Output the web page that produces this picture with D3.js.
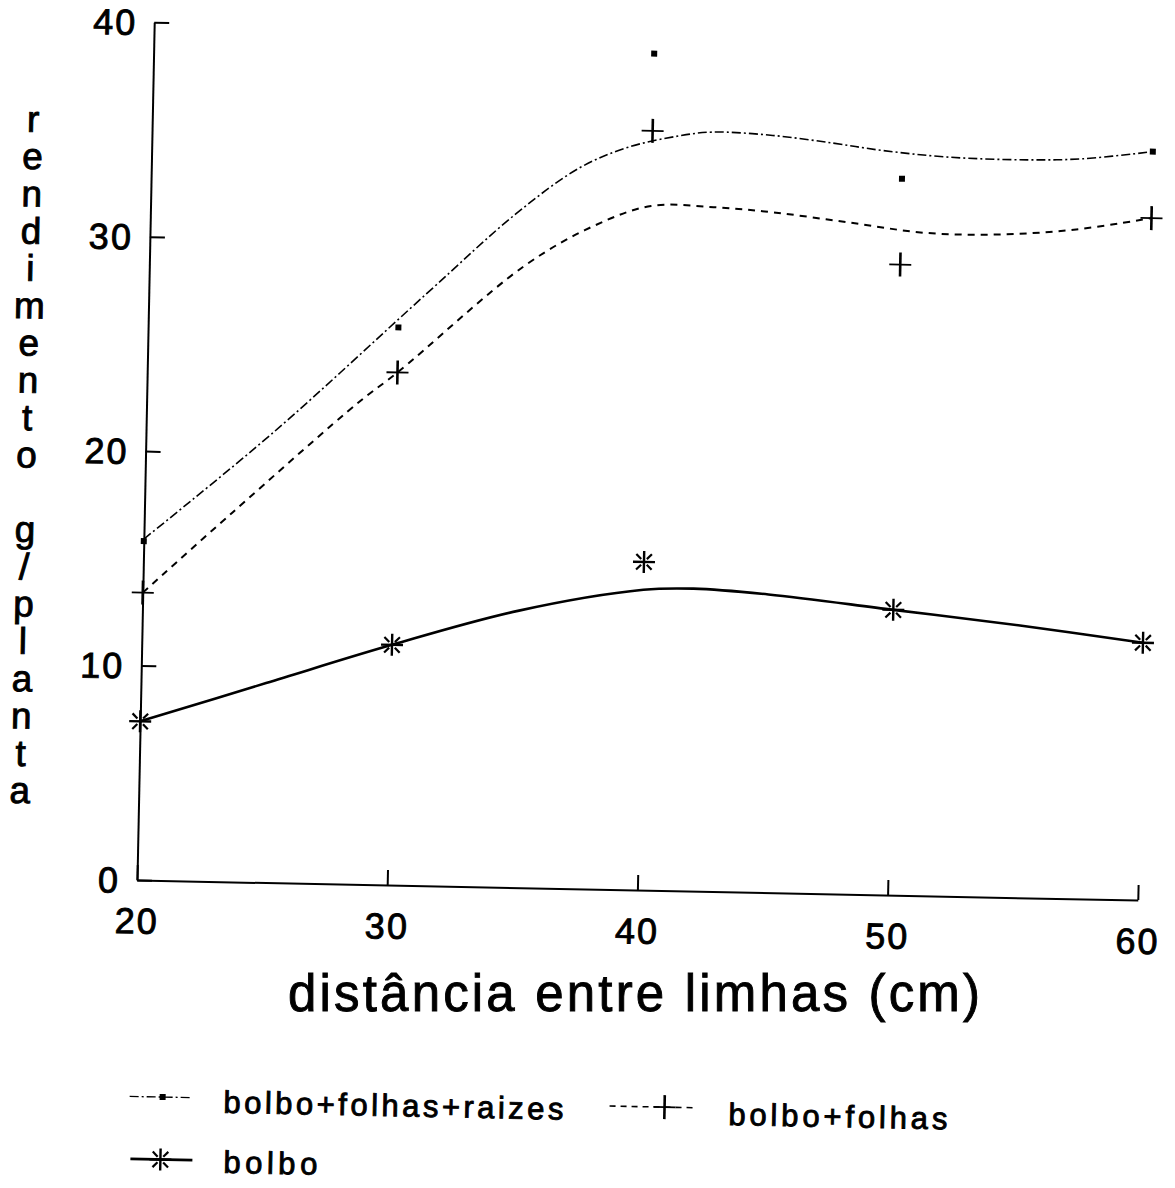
<!DOCTYPE html>
<html>
<head>
<meta charset="utf-8">
<script src="https://cdn.jsdelivr.net/npm/d3@7"></script>
<style>
  html, body { margin: 0; padding: 0; background: #fff; }
  svg { display: block; }
</style>
</head>
<body>
<svg id="chart" width="1175" height="1188"></svg>
<script>
// measured points (distance between rows, cm -> yield g/plant)
var distances = [20, 30, 40, 50, 60];
var bolbo = [7.4, 11.2, 15.3, 13.3, 12.0];
var bolboFolhas = [13.4, 23.9, 35.4, 29.4, 31.8];
var bolboFolhasRaizes = [15.8, 26.0, 39.0, 33.4, 34.9];

// fitted curves
var bolboFitX = [20, 25, 30, 35, 40, 42, 45, 50, 55, 60];
var bolboFitY = [7.4, 9.3, 11.2, 12.9, 14.0, 14.1, 13.9, 13.3, 12.7, 12.0];
var folhasFitX = [20, 23.5, 28.5, 30, 35, 37.7, 40, 42.5, 45, 48, 51, 54, 57, 60];
var folhasFitY = [13.4, 17.2, 22.5, 23.9, 29.0, 30.9, 31.9, 31.9, 31.7, 31.3, 30.9, 30.9, 31.2, 31.8];
var raizesFitX = [20, 25.1, 31.1, 34.6, 37.1, 39, 41.1, 42.4, 44.8, 47.2, 49.2, 51.9, 55, 57.2, 60];
var raizesFitY = [15.9, 21.0, 27.6, 31.4, 33.6, 34.6, 35.2, 35.4, 35.3, 35.0, 34.7, 34.45, 34.4, 34.5, 34.9];

var xTicks = [20, 30, 40, 50, 60];
var yTicks = [0, 10, 20, 30, 40];
var yLabel = "rendimento g/planta";
var xLabel = "distância entre limhas (cm)";
var legendLabels = ["bolbo+folhas+raizes", "bolbo+folhas", "bolbo"];

var font = "'Liberation Sans', Arial, Helvetica, sans-serif";
var svg = d3.select("#chart");
svg.append("rect").attr("width", 1175).attr("height", 1188).attr("fill", "#fff");

// the scanned page sits slightly rotated
var g = svg.append("g").attr("transform", "translate(137,880) rotate(1.15)");

var x = d3.scaleLinear().domain([20, 60]).range([0, 1001]);
var y = d3.scaleLinear().domain([0, 40]).range([0, -858]);

function inkText(sel) {
  // scanned print looks heavier than a plain regular face
  sel.attr("fill", "#000").attr("stroke", "#000").attr("stroke-width", 0.9);
}

var yAxis = g.append("g")
  .call(d3.axisLeft(y).tickValues(yTicks).tickSize(-15).tickSizeOuter(0).tickPadding(17));
var xAxis = g.append("g")
  .call(d3.axisBottom(x).tickValues(xTicks).tickSize(-15).tickSizeOuter(0).tickPadding(28));
[yAxis, xAxis].forEach(function(ax) {
  ax.attr("font-family", font).attr("font-size", 36);
  ax.selectAll("path, line").attr("stroke", "#000").attr("stroke-width", 2);
  ax.selectAll("text").attr("letter-spacing", 2).call(inkText);
});
yAxis.selectAll("text").attr("dy", "0.35em");

function zipPts(xs, ys) {
  return xs.map(function(v, i) { return [v, ys[i]]; });
}
var line = d3.line()
  .x(function(d) { return x(d[0]); })
  .y(function(d) { return y(d[1]); })
  .curve(d3.curveCatmullRom.alpha(0.5));

g.append("path").datum(zipPts(raizesFitX, raizesFitY))
  .attr("d", line).attr("fill", "none").attr("stroke", "#000")
  .attr("stroke-width", 1.6).attr("stroke-dasharray", "9,3,2,3");
g.append("path").datum(zipPts(folhasFitX, folhasFitY))
  .attr("d", line).attr("fill", "none").attr("stroke", "#000")
  .attr("stroke-width", 2).attr("stroke-dasharray", "7,6");
g.append("path").datum(zipPts(bolboFitX, bolboFitY))
  .attr("d", line).attr("fill", "none").attr("stroke", "#000")
  .attr("stroke-width", 2.6);

// markers
function drawDot(sel, cx, cy) {
  sel.append("rect").attr("x", cx - 3).attr("y", cy - 3)
    .attr("width", 6).attr("height", 6).attr("fill", "#000");
}
function drawPlus(sel, cx, cy) {
  sel.append("line").attr("x1", cx).attr("x2", cx).attr("y1", cy - 12).attr("y2", cy + 12)
    .attr("stroke", "#000").attr("stroke-width", 2.6);
  sel.append("line").attr("x1", cx - 11).attr("x2", cx + 11).attr("y1", cy).attr("y2", cy)
    .attr("stroke", "#000").attr("stroke-width", 1.8);
}
function drawStar(sel, cx, cy) {
  sel.append("line").attr("x1", cx).attr("x2", cx).attr("y1", cy - 11).attr("y2", cy + 11)
    .attr("stroke", "#000").attr("stroke-width", 2.4);
  sel.append("line").attr("x1", cx - 11).attr("x2", cx + 11).attr("y1", cy).attr("y2", cy)
    .attr("stroke", "#000").attr("stroke-width", 2.4);
  [45, 135, 225, 315].forEach(function(a) {
    var r = a * Math.PI / 180;
    sel.append("line")
      .attr("x1", cx + Math.cos(r) * 4).attr("y1", cy + Math.sin(r) * 4)
      .attr("x2", cx + Math.cos(r) * 11).attr("y2", cy + Math.sin(r) * 11)
      .attr("stroke", "#000").attr("stroke-width", 2.2);
  });
}

distances.forEach(function(d, i) {
  drawDot(g, x(d), y(bolboFolhasRaizes[i]));
  drawPlus(g, x(d), y(bolboFolhas[i]));
  drawStar(g, x(d), y(bolbo[i]));
});

// vertical stacked y label
g.append("g").selectAll("text")
  .data(yLabel.split(""))
  .enter().append("text")
  .attr("x", -119)
  .attr("y", function(d, i) { return -746 + i * 37.3; })
  .attr("text-anchor", "middle")
  .attr("font-family", font).attr("font-size", 37)
  .call(inkText)
  .text(function(d) { return d; });

// x title, printed level on the page
svg.append("text")
  .attr("x", 288).attr("y", 1011)
  .attr("font-family", font).attr("font-size", 51)
  .attr("textLength", 692).attr("lengthAdjust", "spacing")
  .call(inkText)
  .text(xLabel);

// legend
var leg = g.append("g");
leg.append("line").attr("x1", -3).attr("x2", 60).attr("y1", 216.5).attr("y2", 216.5)
  .attr("stroke", "#000").attr("stroke-width", 1.4).attr("stroke-dasharray", "9,3,2,3");
drawDot(leg, 30, 216.5);
leg.append("text").attr("x", 91).attr("y", 231)
  .attr("font-family", font).attr("font-size", 31)
  .attr("textLength", 340).attr("lengthAdjust", "spacing")
  .call(inkText)
  .text(legendLabels[0]);

leg.append("line").attr("x1", 477).attr("x2", 563).attr("y1", 216.5).attr("y2", 216.5)
  .attr("stroke", "#000").attr("stroke-width", 1.6).attr("stroke-dasharray", "6,5");
drawPlus(leg, 532, 216.5);
leg.append("text").attr("x", 596).attr("y", 233)
  .attr("font-family", font).attr("font-size", 31)
  .attr("textLength", 219).attr("lengthAdjust", "spacing")
  .call(inkText)
  .text(legendLabels[1]);

leg.append("line").attr("x1", -1).attr("x2", 61).attr("y1", 279).attr("y2", 279)
  .attr("stroke", "#000").attr("stroke-width", 2.6);
drawStar(leg, 29, 279);
leg.append("text").attr("x", 92).attr("y", 291)
  .attr("font-family", font).attr("font-size", 31)
  .attr("textLength", 94).attr("lengthAdjust", "spacing")
  .call(inkText)
  .text(legendLabels[2]);
</script>
</body>
</html>
